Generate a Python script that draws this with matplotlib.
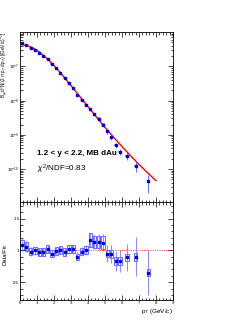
import numpy as np
import matplotlib
matplotlib.use("Agg")
import matplotlib.pyplot as plt
from matplotlib.patches import Rectangle
from matplotlib.ticker import LogLocator, MultipleLocator, NullFormatter

plt.rcParams['font.family'] = ['Liberation Sans', 'DejaVu Sans']
plt.rcParams['mathtext.fontset'] = 'custom'
plt.rcParams['mathtext.rm'] = 'Liberation Sans'
plt.rcParams['mathtext.it'] = 'Liberation Sans:italic'

# pT bin centres (GeV/c)
pt = [0.12, 0.38, 0.63, 0.88, 1.13, 1.38, 1.63, 1.88, 2.13, 2.38, 2.63, 2.88,
      3.13, 3.38, 3.63, 3.88, 4.13, 4.38, 4.63, 4.88, 5.13, 5.38, 5.63, 5.88,
      6.3, 6.8, 7.55]
# log10 of yield
log_yield = [-6.33, -6.37, -6.46, -6.52, -6.60, -6.71, -6.79, -6.92, -7.06, -7.20,
             -7.35, -7.49, -7.63, -7.84, -7.98, -8.13, -8.26, -8.39, -8.53, -8.70,
             -8.90, -9.07, -9.30, -9.50, -9.62, -9.90, -10.35]
# data / fit
ratio = [1.09, 1.06, 0.98, 1.00, 0.97, 0.97, 1.02, 0.95, 0.99, 1.01, 0.97, 1.02,
         1.02, 0.90, 0.98, 1.01, 1.16, 1.13, 1.13, 1.12, 0.95, 0.94, 0.83, 0.83,
         0.89, 0.90, 0.65]
# statistical errors on the ratio
ratio_stat = [0.10, 0.08, 0.07, 0.07, 0.06, 0.06, 0.06, 0.06, 0.06, 0.06, 0.06, 0.07,
              0.07, 0.07, 0.07, 0.08, 0.11, 0.11, 0.12, 0.13, 0.13, 0.14, 0.16, 0.17,
              0.21, 0.31, 0.35]
# systematic errors on the ratio
ratio_sys = [0.08, 0.07, 0.06, 0.06, 0.06, 0.06, 0.06, 0.06, 0.06, 0.06, 0.06, 0.06,
             0.06, 0.05, 0.06, 0.06, 0.11, 0.10, 0.10, 0.10, 0.06, 0.06, 0.06, 0.06,
             0.06, 0.06, 0.05]

# fit parameters: A * (1 + (pT/p0)^2)^-n
fit_A = 4.3e-7
fit_p0 = 3.5
fit_n = 5.0

pt = np.array(pt)
yld = 10 ** np.array(log_yield)
ratio = np.array(ratio)
rel_stat = np.array(ratio_stat) / ratio
rel_sys = np.array(ratio_sys) / ratio

W, H = 249, 323
fig = plt.figure(figsize=(W / 100, H / 100), dpi=100)
ax1 = fig.add_axes([20 / W, 1 - 202 / H, 153 / W, 170 / H])
ax2 = fig.add_axes([20 / W, 1 - 300 / H, 153 / W, 98 / H])

blue = '#0000dd'
lblue = '#9a9aff'
bw = 0.2

# top panel
for x, y, s in zip(pt, yld, rel_sys):
    ax1.add_patch(Rectangle((x - bw / 2, y * (1 - s)), bw, 2 * s * y,
                            facecolor=lblue, edgecolor='none', alpha=0.8, zorder=1))
ax1.errorbar(pt, yld, yerr=[yld * np.minimum(rel_stat, 0.7), yld * rel_stat], fmt='s',
             ms=1.6, color=blue, ecolor='#5555ff', elinewidth=0.6, capsize=0, zorder=3)
xf = np.linspace(0, 8, 200)
ax1.plot(xf, fit_A * (1 + (xf / fit_p0) ** 2) ** (-fit_n), color='red', lw=1.0, zorder=2)
ax1.set_yscale('log')
ax1.set_xlim(0, 9)
ax1.set_ylim(1.1e-11, 1e-6)
ax1.set_xticks(range(10))
ax1.xaxis.set_minor_locator(MultipleLocator(0.2))
ax1.set_xticklabels([])
ax1.set_yticks([1e-10, 1e-9, 1e-8, 1e-7])
ax1.yaxis.set_minor_locator(LogLocator(base=10, subs=np.arange(2, 10)))
ax1.yaxis.set_minor_formatter(NullFormatter())

ax1.text(1.0, 2.6e-10, '1.2 < y < 2.2, MB dAu', fontsize=5.8, fontweight='bold')
ax1.text(1.0, 8.5e-11, r'$\chi^2$/NDF=0.83', fontsize=5.8)

# bottom panel
for x, r, s in zip(pt, ratio, ratio_sys):
    ax2.add_patch(Rectangle((x - bw / 2, r - s), bw, 2 * s, facecolor='none',
                            edgecolor='#6666ff', lw=0.7, zorder=1))
ax2.errorbar(pt, ratio, yerr=ratio_stat, fmt='s', ms=1.4, color=blue,
             ecolor='#7777ff', elinewidth=0.6, capsize=0, zorder=3)
ax2.axhline(1, color='red', ls=':', lw=0.6, zorder=0)
ax2.set_xlim(0, 9)
ax2.set_ylim(0.22, 1.76)
ax2.set_xticks(range(10))
ax2.xaxis.set_minor_locator(MultipleLocator(0.2))
ax2.set_yticks([0.5, 1, 1.5])
ax2.set_yticklabels(['0.5', '1', '1.5'])
ax2.yaxis.set_minor_locator(MultipleLocator(0.1))

for ax in (ax1, ax2):
    ax.tick_params(which='both', direction='in', top=True, right=True, labelsize=3.2,
                   width=0.5, pad=0.5)
    ax.tick_params(which='major', length=3.5)
    ax.tick_params(which='minor', length=1.8)
    for sp in ax.spines.values():
        sp.set_linewidth(0.6)

fig.text(4.4 / W, 1 - 32 / H,
         r'B$_{\mu\mu}$d$^2$N/(2 $\pi$ p$_T$ dp$_T$) [(GeV/c)$^{-2}$]',
         rotation=90, ha='center', va='top', fontsize=3.3)
fig.text(5 / W, 1 - 255 / H, 'Data/Fit', rotation=90, ha='center', va='center',
         fontsize=4.2)
fig.text(173 / W, 1 - 312 / H, r'p$_T$ (GeV/c)', ha='right', va='center', fontsize=4.6)

plt.savefig('out.png', dpi=100)
